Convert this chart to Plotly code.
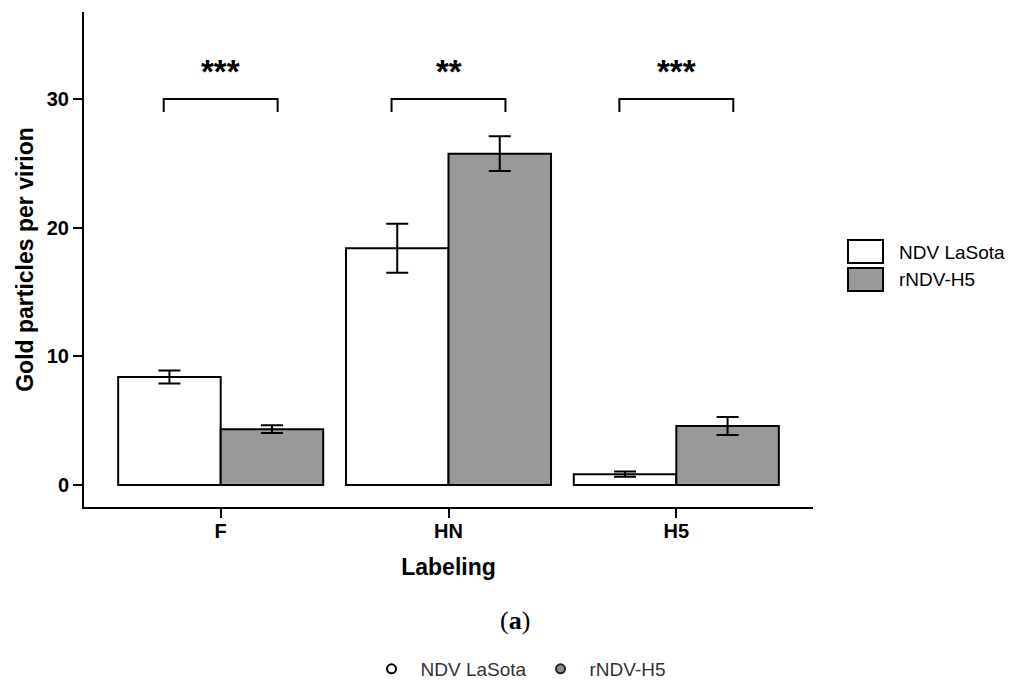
import plotly.graph_objects as go

categories = ["F", "HN", "H5"]
series_names = ["NDV LaSota", "rNDV-H5"]
lasota_mean = [8.4, 18.4, 0.85]
lasota_err = [0.5, 1.9, 0.2]
h5_mean = [4.35, 25.75, 4.6]
h5_err = [0.3, 1.35, 0.7]
significance = ["***", "**", "***"]
bracket_y = [30, 30, 30]
bracket_drop = 1.0
ytick_vals = [0, 10, 20, 30]

# page body has an 8px margin: size the figure so it fills the window
OFF = 8
W, H = 1021 - OFF, 682 - OFF
L, R, T, B = 84 - OFF, 208, 12 - OFF, 175
pw, ph = W - L - R, H - T - B

def px(x):
    return (x - OFF - L) / pw

def py(y):
    return (H - B - (y - OFF)) / ph

FONT = "Arial, Liberation Sans, sans-serif"
colors = ["#ffffff", "#999999"]

fig = go.Figure()
for name, mean, err, col in [(series_names[0], lasota_mean, lasota_err, colors[0]),
                             (series_names[1], h5_mean, h5_err, colors[1])]:
    fig.add_trace(go.Bar(
        x=categories, y=mean, name=name, showlegend=False,
        marker=dict(color=col, line=dict(color="black", width=2)),
        error_y=dict(type="data", array=err, color="black", thickness=2, width=11),
    ))

# dummy traces for the bottom legend
fig.add_trace(go.Scatter(x=[None], y=[None], mode="markers", name=series_names[0],
                         marker=dict(symbol="circle", size=9, color="white",
                                     line=dict(color="black", width=2))))
fig.add_trace(go.Scatter(x=[None], y=[None], mode="markers", name=series_names[1],
                         marker=dict(symbol="circle", size=9, color="#8c8c8c",
                                     line=dict(color="#222222", width=2))))

shapes = []
annotations = []
for i, (s, by) in enumerate(zip(significance, bracket_y)):
    x0, x1 = i - 0.25, i + 0.25
    shapes.append(dict(type="path", xref="x", yref="y",
                       path=f"M {x0} {by - bracket_drop} L {x0} {by} L {x1} {by} L {x1} {by - bracket_drop}",
                       line=dict(color="black", width=2)))
    annotations.append(dict(x=i, y=by + 2.15, xref="x", yref="y", text=f"<b>{s}</b>",
                            showarrow=False, font=dict(family=FONT, size=33, color="black"),
                            yanchor="middle"))

# right-hand legend boxes
for k, (name, col) in enumerate(zip(series_names, colors)):
    top = 240 + k * 28
    shapes.append(dict(type="rect", xref="paper", yref="paper",
                       x0=px(848), x1=px(883), y0=py(top), y1=py(top + 23),
                       fillcolor=col, line=dict(color="black", width=2)))
    annotations.append(dict(x=px(897), y=py(top + 12), xref="paper", yref="paper",
                            text=name, showarrow=False, xanchor="left", yanchor="middle",
                            font=dict(family=FONT, size=19, color="black")))

annotations.append(dict(x=px(515), y=py(620), xref="paper", yref="paper",
                        text="(<b>a</b>)", showarrow=False, xanchor="center", yanchor="middle",
                        font=dict(family="Liberation Serif, Times New Roman, serif", size=26,
                                  color="black")))

fig.update_layout(
    width=W, height=H,
    margin=dict(l=L, r=R, t=T, b=B, autoexpand=False),
    plot_bgcolor="white", paper_bgcolor="white",
    barmode="group", bargap=0.1, bargroupgap=0,
    shapes=shapes, annotations=annotations,
    showlegend=True,
    legend=dict(orientation="h", x=px(517), xanchor="center", y=py(669), yanchor="middle",
                font=dict(family=FONT, size=19, color="#333333"), itemwidth=48),
    xaxis=dict(range=[-0.6, 2.6], showline=True, linecolor="black", linewidth=2,
               ticks="outside", ticklen=9, tickwidth=2, tickcolor="black", automargin=False,
               ticklabelstandoff=-4,
               tickfont=dict(family=FONT, size=20, color="black", weight="bold"),
               title=dict(text="<b>Labeling</b>", standoff=18,
                          font=dict(family=FONT, size=23, color="black")),
               showgrid=False, zeroline=False),
    yaxis=dict(range=[-1.7, 36.76], tickvals=ytick_vals, showline=True, linecolor="black",
               linewidth=2, ticks="outside", ticklen=9, tickwidth=2, tickcolor="black",
               automargin=False,
               tickfont=dict(family=FONT, size=20, color="black", weight="bold"),
               title=dict(text="<b>Gold particles per virion</b>", standoff=7,
                          font=dict(family=FONT, size=23, color="black")),
               showgrid=False, zeroline=False),
)

fig.write_html("out.html")
